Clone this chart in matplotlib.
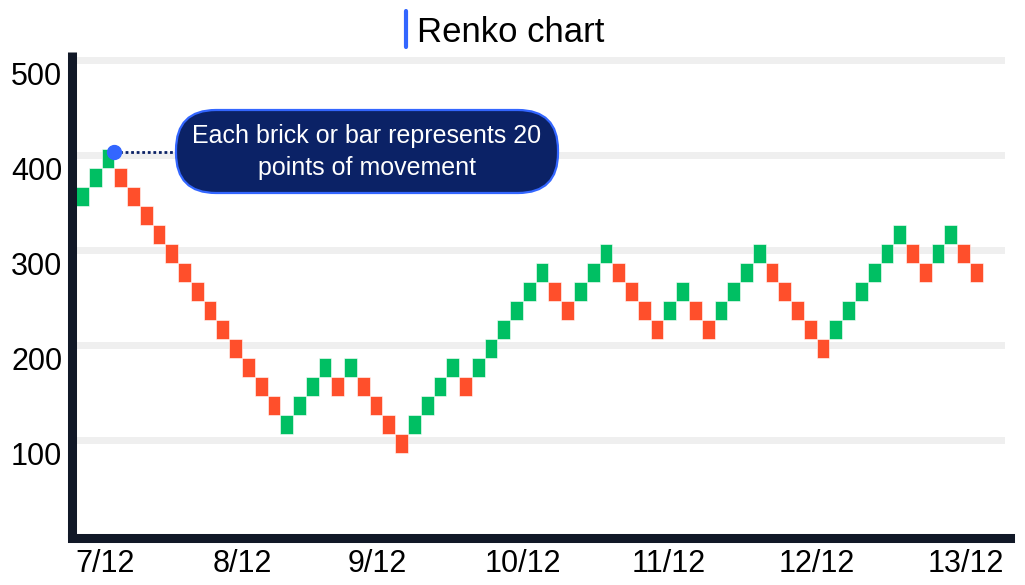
import matplotlib
matplotlib.use("Agg")
import matplotlib.pyplot as plt
from matplotlib.patches import FancyBboxPatch
from matplotlib.transforms import ScaledTranslation

plt.rcParams['font.family'] = ['Liberation Sans', 'DejaVu Sans']

# brick data: level index of each brick (20 points per level) and its colour
BRICK_SIZE = 20
BASE = 386
brick_levels = [-2, -1, 0, -1, -2, -3, -4, -5, -6, -7, -8, -9, -10, -11, -12, -13,
                -14, -13, -12, -11, -12, -11, -12, -13, -14, -15,
                -14, -13, -12, -11, -12, -11, -10, -9, -8, -7, -6, -7, -8,
                -7, -6, -5, -6, -7, -8, -9, -8, -7, -8, -9,
                -8, -7, -6, -5, -6, -7, -8, -9, -10, -9, -8, -7, -6, -5, -4,
                -5, -6, -5, -4, -5, -6]
brick_up = [1, 1, 1, 0, 0, 0, 0, 0, 0, 0, 0, 0, 0, 0, 0, 0,
            1, 1, 1, 1, 0, 1, 0, 0, 0, 0,
            1, 1, 1, 1, 0, 1, 1, 1, 1, 1, 1, 0, 0,
            1, 1, 1, 0, 0, 0, 0, 1, 1, 0, 0,
            1, 1, 1, 1, 0, 0, 0, 0, 0, 1, 1, 1, 1, 1, 1,
            0, 0, 1, 1, 0, 0]

y_ticks = [100, 200, 300, 400, 500]
date_labels = ['7/12', '8/12', '9/12', '10/12', '11/12', '12/12', '13/12']
date_pos = [2.3, 13.0, 23.6, 35.0, 46.4, 58.0, 69.7]

GREEN = '#00bf63'
RED = '#ff4f2b'
NAVY = '#0b2266'
BLUE = '#3366ff'
AXIS = '#111827'

W, H = 1025, 585
fig = plt.figure(figsize=(W / 100, H / 100), dpi=100)

# main axes placed in pixel terms
left, right, bottom, top = 72, 1010, 538, 52
ax = fig.add_axes([left / W, (H - bottom) / H, (right - left) / W, (bottom - top) / H])
ax.set_xlim(-0.313, 73.14)
ax.set_ylim(-3.16, 508.4)

for v in y_ticks:
    ax.axhline(v, xmin=0.005, xmax=0.99, color='#efefef', lw=5, zorder=0)

xs = list(range(len(brick_levels)))
bottoms = [BASE + BRICK_SIZE * lv for lv in brick_levels]
colors = [GREEN if u else RED for u in brick_up]
ax.bar(xs, BRICK_SIZE, bottom=bottoms, width=1, align='edge', color=colors,
       edgecolor='white', linewidth=0.4, zorder=2)

# spines
for s in ['top', 'right']:
    ax.spines[s].set_visible(False)
for s in ['left', 'bottom']:
    ax.spines[s].set_linewidth(6.5)
    ax.spines[s].set_color(AXIS)
ax.spines['left'].set_capstyle('butt')
ax.spines['bottom'].set_capstyle('projecting')

ax.set_yticks(y_ticks)
ax.set_yticklabels([str(v) for v in y_ticks])
ax.set_xticks(date_pos)
ax.set_xticklabels(date_labels)
ax.tick_params(axis='both', length=0, labelsize=22, colors='black')
ax.tick_params(axis='y', pad=7)
ax.tick_params(axis='x', pad=8)
shift = ScaledTranslation(0, -0.14, fig.dpi_scale_trans)
for lab in ax.get_yticklabels():
    lab.set_transform(lab.get_transform() + shift)

# marker on the peak brick and dotted leader to the note
peak = brick_levels.index(max(brick_levels))
peak_top = bottoms[peak] + BRICK_SIZE
ax.plot([peak + 1, 7.85], [peak_top - 3, peak_top - 3], color=NAVY, lw=2,
        ls=(0, (1, 1)), zorder=3, clip_on=False)
ax.plot(peak + 1, peak_top - 3, 'o', color=BLUE, ms=10, zorder=4, clip_on=False)

# overlay in pixel coordinates for title and note
ov = fig.add_axes([0, 0, 1, 1])
ov.set_xlim(0, W)
ov.set_ylim(H, 0)
ov.axis('off')
ov.patch.set_alpha(0)

box = FancyBboxPatch((176, 110), 382, 83, boxstyle='round,pad=0,rounding_size=40',
                     facecolor=NAVY, edgecolor=BLUE, linewidth=1.6, zorder=5)
ov.add_patch(box)
ov.text(367, 152, 'Each brick or bar represents 20\npoints of movement', color='white',
        fontsize=18, ha='center', va='center', linespacing=1.45, zorder=6)

ov.plot([406, 406], [11, 47], color=BLUE, lw=3, solid_capstyle='round')
ov.text(417, 42, 'Renko chart', fontsize=25, color='black', ha='left', va='baseline')

fig.savefig('out.png', dpi=100)
